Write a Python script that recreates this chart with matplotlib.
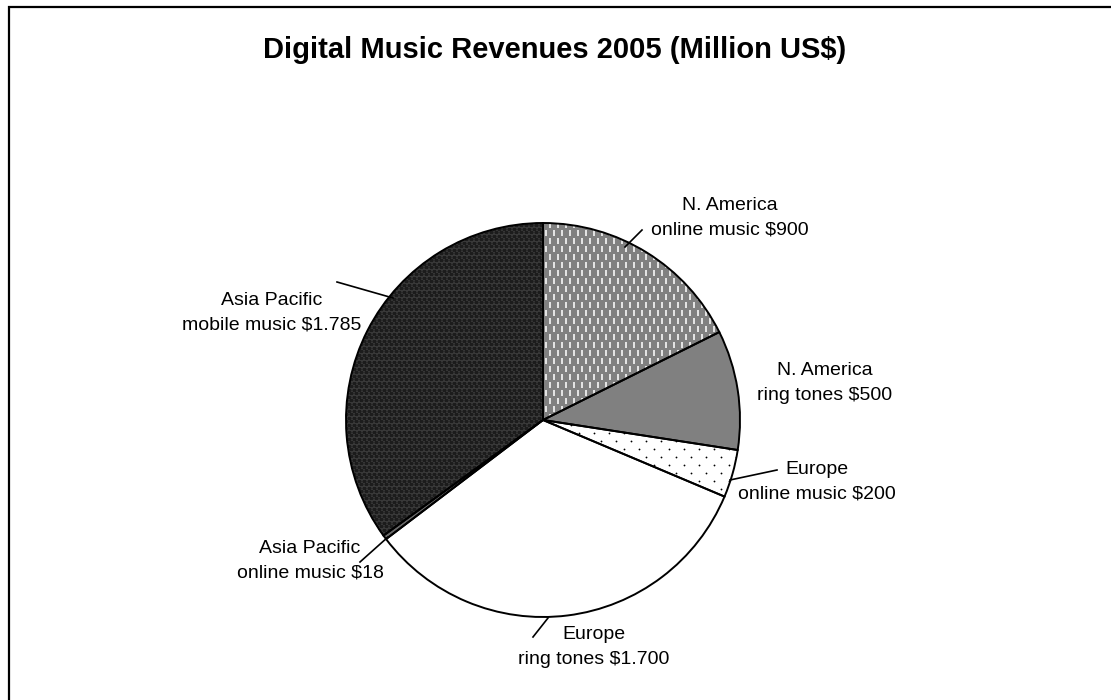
import numpy as np
import matplotlib.pyplot as plt
from matplotlib.patches import Rectangle, Wedge

plt.rcParams['font.family'] = ['Liberation Sans', 'DejaVu Sans']

# revenue by region and channel, clockwise from 12 o'clock
segments = ['N. America\nonline music', 'N. America\nring tones', 'Europe\nonline music',
            'Europe\nring tones', 'Asia Pacific\nonline music', 'Asia Pacific\nmobile music']
revenues = [900, 500, 200, 1700, 18, 1785]
value_text = ['$900', '$500', '$200', '$1.700', '$18', '$1.785']

W, H = 1111, 700
fig = plt.figure(figsize=(W / 100, H / 100), dpi=100)
ax = fig.add_axes([0, 0, 1, 1])

cx, cy, R = 543, 280, 197
faces = ['#808080', '#808080', 'white', 'white', '#6a6a6a', '#383838']
wedges, _ = ax.pie(revenues, colors=faces, startangle=90, counterclock=False,
                   center=(cx, cy), radius=R, frame=True,
                   wedgeprops=dict(edgecolor='none', linewidth=0))
ax.set_xlim(0, W)
ax.set_ylim(0, H)
ax.set_aspect('auto')
ax.axis('off')


def texture(wedge, dx, dy, marker, color, ms, mew, stagger=True):
    xs = np.arange(cx - R, cx + R, dx)
    ys = np.arange(cy - R, cy + R, dy)
    px, py = [], []
    for i, y in enumerate(ys):
        off = dx / 2 if (stagger and i % 2) else 0
        px.extend(xs + off)
        py.extend([y] * len(xs))
    ln, = ax.plot(px, py, ls='none', marker=marker, color=color, ms=ms, mew=mew, zorder=2)
    ln.set_clip_path(wedge)


# white dashes, dotted and dark weave fills
texture(wedges[0], 8, 8, '|', '#e6e6e6', 5, 1.4)
texture(wedges[2], 15, 8, 'o', 'black', 1.3, 0)
texture(wedges[5], 5, 3.5, '_', '#1c1c1c', 3, 1.0)

# outlines on top of the fills
for w in wedges:
    w.set_zorder(1)
    ax.add_patch(Wedge(w.center, w.r, w.theta1, w.theta2,
                       fill=False, edgecolor='black', lw=1.4, zorder=3))


def flip(y):
    return H - y


# labels with leader lines, positions in pixels from the top-left
label_pos = [(730, 218), (825, 383), (817, 482), (594, 647), (310, 561), (272, 313)]
leaders = [((625, 247), (642, 230)), None, ((730, 480), (777, 470)),
           ((533, 637), (548, 618)), ((388, 537), (360, 562)), ((393, 298), (337, 282))]
for seg, val, (lx, ly), ld in zip(segments, value_text, label_pos, leaders):
    ax.text(lx, flip(ly), f'{seg} {val}', ha='center', va='center', fontsize=14,
            linespacing=1.6, zorder=4)
    if ld:
        ax.plot([ld[0][0], ld[1][0]], [flip(ld[0][1]), flip(ld[1][1])],
                color='black', lw=1.2, zorder=4)

ax.text(555, flip(50), 'Digital Music Revenues 2005 (Million US$)', ha='center', va='center',
        fontsize=21, fontweight='bold')

ax.add_patch(Rectangle((9, -20), W + 50, H - 7 + 20, fill=False, edgecolor='black', lw=1.6,
                       clip_on=False))

fig.savefig('out.png', dpi=100)
